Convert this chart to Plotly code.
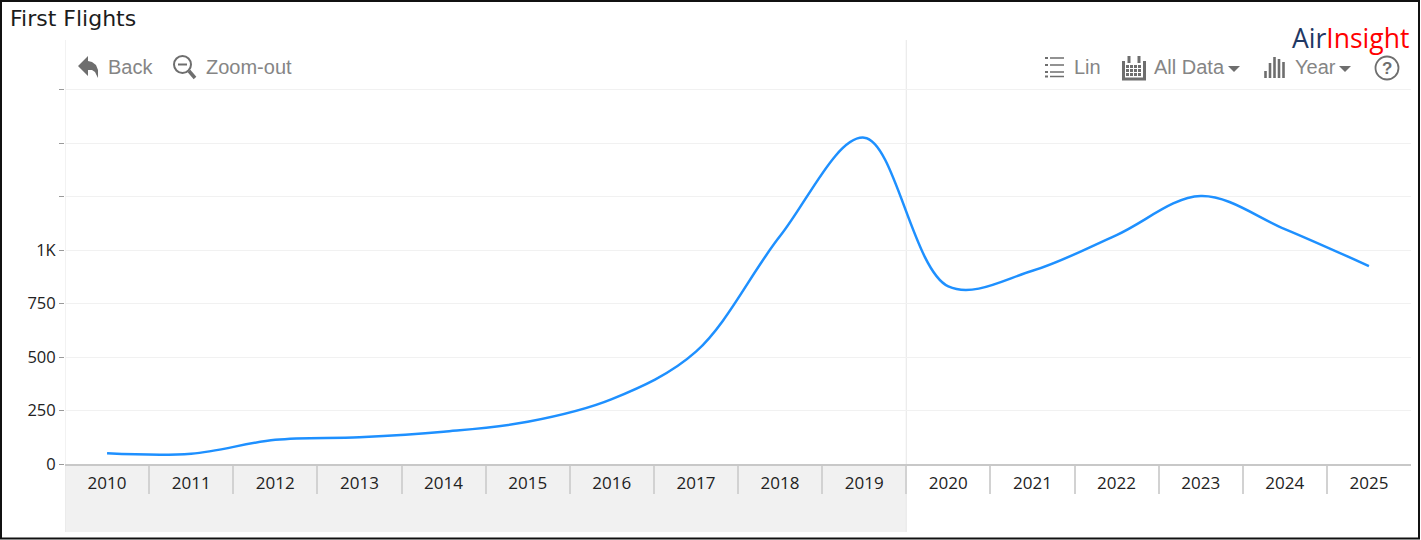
import plotly.graph_objects as go

years = ["2010","2011","2012","2013","2014","2015","2016","2017","2018","2019","2020","2021","2022","2023","2024","2025"]
first_flights = [50, 48, 113, 125, 151, 197, 303, 525, 1065, 1525, 830, 903, 1070, 1252, 1098, 925]
y_ticks = [0, 250, 500, 750, 1000, 1250, 1500, 1750]
y_labels = ["0", "250", "500", "750", "1K", "", "", ""]
positions = list(range(len(years)))
boundaries = [p + 0.5 for p in positions[:-1]]

W, H = 1421, 540
L, R, T, B = 65, 10, 40, 76
PW, PH = W - L - R, H - T - B
SCALE = 53.5 / 250
def X(x): return (x - L) / PW
def Y(y): return (H - B - y) / PH
def pth(pts, close=False):
    s = "M " + " L ".join(f"{X(a):.5f},{Y(b):.5f}" for a, b in pts)
    return s + (" Z" if close else "")

GREY = "#6e6e6e"
shapes = []
def add_path(d, fill=None, lw=0, color=GREY):
    shapes.append(dict(type="path", xref="paper", yref="paper", path=d,
                       fillcolor=fill or "rgba(0,0,0,0)", line=dict(color=color, width=lw), layer="above"))
def add_line(x0, y0, x1, y1, lw=1.5, color=GREY):
    shapes.append(dict(type="line", xref="paper", yref="paper", x0=X(x0), y0=Y(y0), x1=X(x1), y1=Y(y1),
                       line=dict(color=color, width=lw), layer="above"))

# shaded band and dividers
shapes.append(dict(type="rect", xref="x", yref="paper", x0=-0.5, x1=9.5, y0=Y(532), y1=0,
                   fillcolor="#f1f1f1", line=dict(width=0), layer="below"))
for xv in (-0.5, 9.5):
    shapes.append(dict(type="line", xref="x", yref="paper", x0=xv, x1=xv, y0=Y(532), y1=1,
                       line=dict(color="#e6e6e6", width=1), layer="below"))

# back arrow
add_path(pth([(78,66),(88,56),(88,61),(92,62),(96,65),(98,70),(98,78),(95,72),(92,70),(88,70),(88,76)], True), fill=GREY)
# zoom-out lens
shapes.append(dict(type="circle", xref="paper", yref="paper", x0=X(174), x1=X(191), y0=Y(73), y1=Y(56),
                   line=dict(color=GREY, width=2), layer="above"))
add_line(178, 64.5, 187, 64.5, 2)
add_line(189, 71, 195, 78, 3.5)
# list icon
for yy in (58, 65, 72, 76.5):
    add_line(1045, yy, 1048, yy, 2)
    add_line(1050, yy, 1064, yy, 1.5)
# calendar
add_path(pth([(1123.5,61),(1123.5,79),(1144.5,79),(1144.5,61)]), lw=3)
for xx in (1129, 1139):
    add_line(xx, 56, xx, 63, 3)
for yy in (66.5, 70.5, 74.5):
    for xx in (1127.5, 1131.5, 1135.5, 1139.5):
        add_line(xx - 1.5, yy, xx + 1.5, yy, 3)
# bar icon
for xx, top in zip((1265.5, 1270, 1274.5, 1279, 1283.5), (71, 63, 57, 59, 62)):
    add_line(xx, top, xx, 78, 2.6)
# carets
add_path(pth([(1228,66),(1240,66),(1234,72)], True), fill=GREY)
add_path(pth([(1339,66),(1351,66),(1345,72)], True), fill=GREY)
# help circle
shapes.append(dict(type="circle", xref="paper", yref="paper", x0=X(1375.5), x1=X(1398.5), y0=Y(79.5), y1=Y(56.5),
                   line=dict(color=GREY, width=1.8), layer="above"))
# page frame
shapes.append(dict(type="rect", xref="paper", yref="paper", x0=X(1), x1=X(1419), y0=Y(538.5), y1=Y(1),
                   line=dict(color="#111111", width=2), layer="above"))

def note(text, x, y, size, color, family, anchor="left", weight="normal"):
    return dict(text=text, xref="paper", yref="paper", x=X(x), y=Y(y), xanchor=anchor, yanchor="middle",
                showarrow=False, font=dict(size=size, color=color, family=family, weight=weight),
                borderpad=0, borderwidth=0)

TOOL = "Liberation Sans"
annotations = [
    note("First Flights", 10, 19, 22, "#1c1c1c", "DejaVu Sans"),
    note("<span style='color:#1f3864'>Air</span><span style='color:#ff0000'>Insight</span>",
         1408.5, 38, 26.5, "#ff0000", "Open Sans", "right"),
    note("Back", 108, 67, 20, "#858585", TOOL),
    note("Zoom-out", 205.5, 67, 20, "#858585", TOOL),
    note("Lin", 1074, 67, 20, "#858585", TOOL),
    note("All Data", 1154, 67, 20, "#858585", TOOL),
    note("Year", 1295, 67, 20, "#858585", TOOL),
    note("?", 1387, 68, 17, GREY, TOOL, "center", "bold"),
]

fig = go.Figure(go.Scatter(x=positions, y=first_flights, mode="lines", cliponaxis=False,
                           line=dict(color="#1e90ff", width=2.5, shape="spline", smoothing=1.0),
                           hoverinfo="y"))
fig.update_layout(
    width=W, height=H, margin=dict(l=L, r=R, t=T, b=B, pad=0), autosize=False,
    plot_bgcolor="white", paper_bgcolor="white", showlegend=False,
    shapes=shapes, annotations=annotations,
    font=dict(family="Open Sans", size=16, color="#222222"),
)
fig.update_xaxes(range=[-0.5, 15.5], tickmode="array", tickvals=positions, ticktext=years,
                 ticks="", ticklabelstandoff=3, tickfont=dict(family="Open Sans", size=17, color="#222222"),
                 minor=dict(tickmode="array", tickvals=boundaries, ticks="outside", ticklen=28,
                            tickwidth=1.5, tickcolor="#d2d2d2", showgrid=False),
                 showgrid=False, showline=True, linecolor="#c8c8c8", linewidth=2, zeroline=False)
fig.update_yaxes(range=[0, PH / SCALE], tickmode="array", tickvals=y_ticks, ticktext=y_labels,
                 ticks="outside", ticklen=5, tickwidth=1, tickcolor="#9a9a9a",
                 tickfont=dict(family="Open Sans", size=16.5, color="#222222"),
                 showgrid=True, gridcolor="#f1f1f1", gridwidth=1, zeroline=False, showline=False)

fig.write_html("out.html", config=dict(displayModeBar=False),
               post_script="document.body.style.margin='0';document.body.style.overflow='hidden';")
